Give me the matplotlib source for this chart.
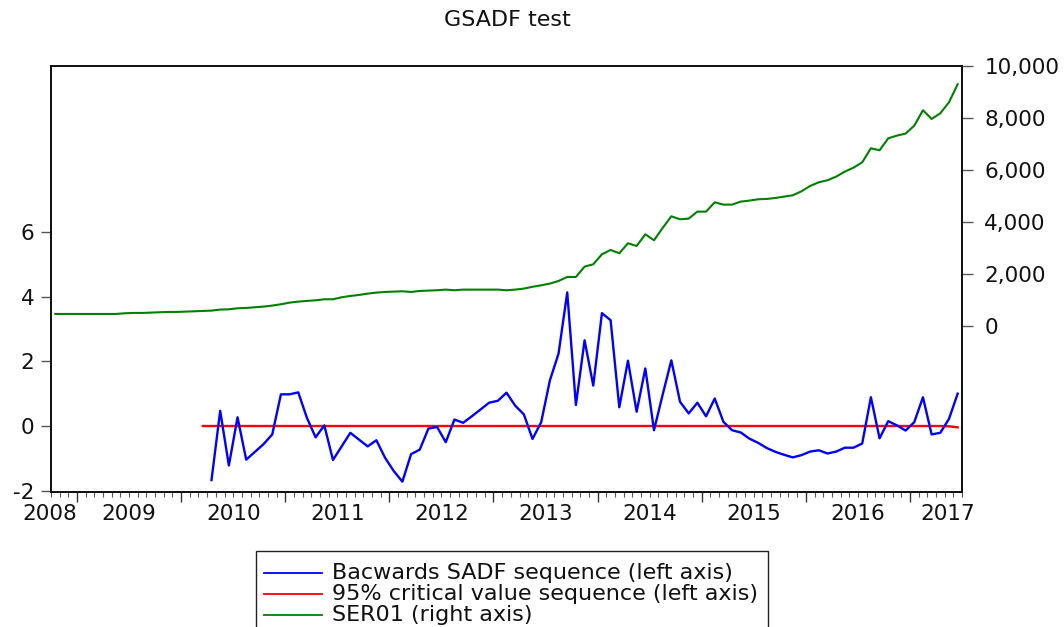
import numpy as np
import matplotlib
matplotlib.use("Agg")
import matplotlib.pyplot as plt
from matplotlib.lines import Line2D
from matplotlib.patches import Rectangle

plt.rcParams['font.family'] = ['DejaVu Sans']

# =========================
# Dados (mensal, 2008M10 - 2017M06)
# =========================
n_meses = 105
inicio_sadf = 18
inicio_cv = 17

ser01 = [462, 462, 462, 462, 462, 462, 462, 462, 488, 501,
         501, 514, 527, 540, 540, 552, 565, 578, 591, 630,
         642, 681, 694, 720, 745, 784, 835, 899, 938, 964,
         989, 1028, 1028, 1105, 1156, 1195, 1246, 1285, 1310, 1323,
         1336, 1310, 1349, 1362, 1375, 1400, 1375, 1400, 1400, 1400,
         1400, 1400, 1375, 1400, 1439, 1510, 1567, 1632, 1734, 1888,
         1888, 2287, 2377, 2762, 2929, 2800, 3186, 3083, 3532, 3302,
         3777, 4226, 4111, 4137, 4406, 4406, 4766, 4676, 4676, 4792,
         4831, 4882, 4895, 4933, 4985, 5036, 5190, 5396, 5538, 5615,
         5756, 5948, 6102, 6307, 6847, 6770, 7233, 7336, 7413, 7721,
         8313, 7978, 8197, 8621, 9315]

sadf = [-1.67, 0.47, -1.22, 0.27, -1.04, -0.80, -0.56, -0.26, 0.98, 0.98,
        1.04, 0.25, -0.35, 0.02, -1.05, -0.63, -0.21, -0.42, -0.63, -0.44,
        -0.98, -1.39, -1.72, -0.87, -0.73, -0.08, -0.03, -0.50, 0.20, 0.10,
        0.30, 0.51, 0.72, 0.78, 1.03, 0.63, 0.36, -0.40, 0.12, 1.41,
        2.24, 4.13, 0.65, 2.65, 1.25, 3.49, 3.27, 0.58, 2.02, 0.44,
        1.78, -0.13, 0.97, 2.03, 0.75, 0.39, 0.72, 0.30, 0.85, 0.13,
        -0.13, -0.20, -0.39, -0.52, -0.68, -0.80, -0.89, -0.97, -0.90, -0.79,
        -0.75, -0.85, -0.79, -0.67, -0.67, -0.54, 0.89, -0.38, 0.15, 0.02,
        -0.14, 0.12, 0.89, -0.26, -0.21, 0.22, 1.00]

cv95 = [0.00, 0.00, 0.00, 0.00, 0.00, 0.00, 0.00, 0.00, 0.00, 0.00,
        0.00, 0.00, 0.00, 0.00, 0.00, 0.00, 0.00, 0.00, 0.00, 0.00,
        0.00, 0.00, 0.00, 0.00, 0.00, 0.00, 0.00, 0.00, 0.00, 0.00,
        0.00, 0.00, 0.00, 0.00, 0.00, 0.00, 0.00, 0.00, 0.00, 0.00,
        0.00, 0.00, 0.00, 0.00, 0.00, 0.00, 0.00, 0.00, 0.00, 0.00,
        0.00, 0.00, 0.00, 0.00, 0.00, 0.00, 0.00, 0.00, 0.00, 0.00,
        0.00, 0.00, 0.00, 0.00, 0.00, 0.00, 0.00, 0.00, 0.00, 0.00,
        0.00, 0.00, 0.00, 0.00, 0.00, 0.00, 0.00, 0.00, 0.00, 0.00,
        0.00, 0.00, 0.00, 0.00, 0.00, 0.00, -0.01, -0.04]

anos = ["2008", "2009", "2010", "2011", "2012", "2013", "2014", "2015", "2016", "2017"]
pos_anos = [-0.7, 8.5, 20.5, 32.5, 44.5, 56.5, 68.5, 80.5, 92.5, 102.8]
inicio_anos = [2.5, 14.5, 26.5, 38.5, 50.5, 62.5, 74.5, 86.5, 98.5]

esq_ticks = [-2, 0, 2, 4, 6]
dir_ticks = [0, 2000, 4000, 6000, 8000, 10000]

legendas = ["Bacwards SADF sequence (left axis)",
            "95% critical value sequence (left axis)",
            "SER01 (right axis)"]
cores = ["#0000ff", "#ff0000", "#008000"]

# =========================
# Figura
# =========================
W, H = 1064, 627


def fx(px):
    return px / W


def fy(py):
    return 1 - py / H


fig = plt.figure(figsize=(W / 100, H / 100), dpi=100)
ax = fig.add_axes([fx(51), fy(492), (962 - 51) / W, (492 - 65.7) / H])
ax2 = ax.twinx()

x = np.arange(n_meses)
ax.plot(x[inicio_sadf:], sadf, color=cores[0], lw=1.7, zorder=3)
ax.plot(x[inicio_cv:], cv95, color=cores[1], lw=1.7, zorder=2)
ax2.plot(x, ser01, color=cores[2], lw=1.5)

ax.set_xlim(-0.5, n_meses - 0.5)
ax.set_ylim(-2.04, 11.14)
ax2.set_ylim(-6400, 10030)

# eixo x
ax.set_xticks(inicio_anos)
ax.set_xticklabels([])
ax.set_xticks(np.arange(n_meses + 1) - 0.5, minor=True)
ax.tick_params(axis='x', which='major', direction='out', length=7, width=1, color='#333')
ax.tick_params(axis='x', which='minor', direction='out', length=3.5, width=0.8, color='#555')
for ano, p in zip(anos, pos_anos):
    ax.text(p, -22 / 426.3, ano, transform=ax.get_xaxis_transform(),
            ha='center', va='center', fontsize=15.5, color='#111')

# eixos y
ax.set_yticks(esq_ticks)
ax.set_yticklabels([str(v) for v in esq_ticks])
ax.tick_params(axis='y', direction='out', length=7, width=1, color='#555',
               labelsize=15.5, pad=5, labelcolor='#111')
ax2.set_yticks(dir_ticks)
ax2.set_yticklabels([f"{v:,}" for v in dir_ticks])
ax2.tick_params(axis='y', direction='out', length=8, width=1, color='#555',
                labelsize=15.5, pad=8, labelcolor='#111')

for a in (ax, ax2):
    for s in a.spines.values():
        s.set_linewidth(1.3)
        s.set_color('#111')

fig.text(fx(507), fy(20), "GSADF test", ha='center', va='center', fontsize=16, color='#111')

# =========================
# Legenda (desenhada a mao)
# =========================
fig.add_artist(Rectangle((fx(256), fy(660)), (767.7 - 256) / W, (660 - 551) / H,
                         transform=fig.transFigure, fill=False, ec='#222', lw=1.0))
for i, (txt, c) in enumerate(zip(legendas, cores)):
    yy = 572.7 + i * 21.3
    fig.add_artist(Line2D([fx(264), fx(321.7)], [fy(yy), fy(yy)],
                          transform=fig.transFigure, color=c, lw=1.3))
    fig.text(fx(331.7), fy(yy), txt, ha='left', va='center', fontsize=16, color='#111')

fig.savefig("out.png", dpi=100)
